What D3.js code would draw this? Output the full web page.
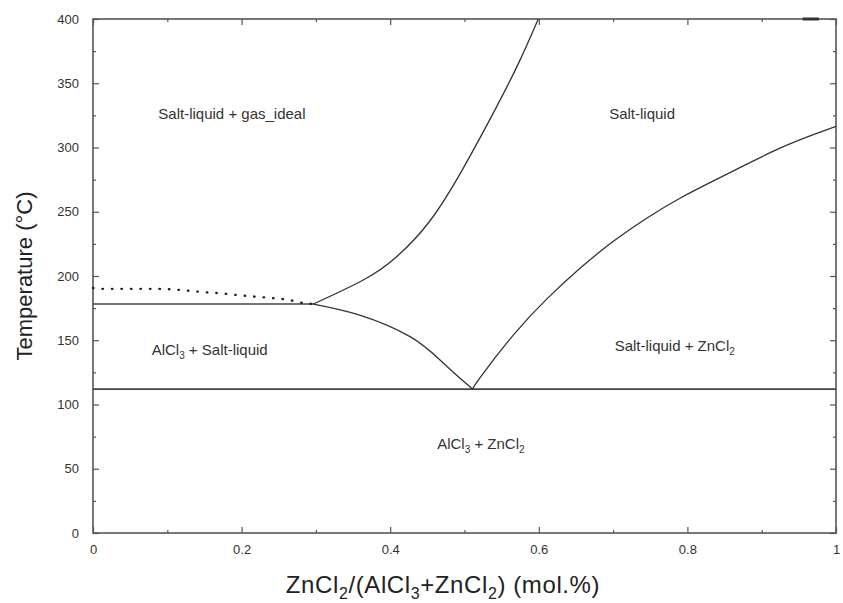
<!DOCTYPE html>
<html><head><meta charset="utf-8">
<script src="https://cdn.jsdelivr.net/npm/d3@7"></script>
<style>body{margin:0;background:#fff}</style>
</head><body>
<svg id="c" width="843" height="603"></svg>
<script>
// ---- data ----
const xMajorTicks = [0, 0.2, 0.4, 0.6, 0.8, 1];
const xMinorTicks = [0.1, 0.3, 0.5, 0.7, 0.9];
const yMajorTicks = [0, 50, 100, 150, 200, 250, 300, 350, 400];
const yMinorTicks = [25, 75, 125, 175, 225, 275, 325, 375];

const gasBoundaryX = [0.2965, 0.3638, 0.4087, 0.4536, 0.4984, 0.5433, 0.5747, 0.5993];
const gasBoundaryT = [178.2, 196.9, 215, 243, 284, 331.8, 368, 400];

const alLiquidusX = [0.2965, 0.359, 0.4267, 0.467, 0.494, 0.511];
const alLiquidusT = [178.2, 169.6, 152.8, 134.6, 120.4, 112];

const znLiquidusX = [0.511, 0.521, 0.5657, 0.6106, 0.6555, 0.7003, 0.7452, 0.79, 0.835, 0.88, 0.9246, 0.9695, 1.0];
const znLiquidusT = [112, 121, 154, 182, 206, 227, 245, 260.5, 274, 287, 299.5, 310, 316.5];

const metastableX = [0, 0.0085, 0.085, 0.122, 0.147, 0.172, 0.197, 0.235, 0.261, 0.285, 0.2965];
const metastableT = [190.7, 190, 190, 188.9, 187.5, 186.5, 185, 183.1, 181.6, 178.8, 178.2];

const peritecticX = [0, 0.2965];
const peritecticT = [178.2, 178.2];
const eutecticX = [0, 1];
const eutecticT = [112, 112];
const topMarkX = [0.955, 0.977];
const topMarkT = [400, 400];

const regionLabels = [
  {x: 0.187, T: 322, parts: [["Salt-liquid + gas_ideal", null]]},
  {x: 0.739, T: 322, parts: [["Salt-liquid", null]]},
  {x: 0.157, T: 138.5, parts: [["AlCl", null], ["3", "sub"], [" + Salt-liquid", null]]},
  {x: 0.783, T: 141.6, parts: [["Salt-liquid + ZnCl", null], ["2", "sub"]]},
  {x: 0.522, T: 65.4, parts: [["AlCl", null], ["3", "sub"], [" + ZnCl", null], ["2", "sub"]]}
];

// ---- chart ----
const W = 843, H = 603;
const m = {left: 93, right: 7, top: 19, bottom: 70};
const svg = d3.select("#c");
const x = d3.scaleLinear().domain([0, 1]).range([m.left, W - m.right]);
const y = d3.scaleLinear().domain([0, 400]).range([H - m.bottom, m.top]);
const axisCol = "#555", lineCol = "#333", textCol = "#333";

function styleAxis(g) {
  g.select(".domain").remove();
  g.selectAll(".tick line").attr("stroke", axisCol).attr("stroke-width", 1.2);
  g.selectAll(".tick text").attr("fill", textCol);
}
// major ticks
svg.append("g").attr("transform", `translate(0,${y(0)})`)
  .call(d3.axisBottom(x).tickValues(xMajorTicks).tickSizeInner(-6).tickSizeOuter(0).tickPadding(12)
    .tickFormat(d => d === 0 || d === 1 ? d3.format("d")(d) : d3.format(".1f")(d)))
  .call(styleAxis)
  .call(g => g.selectAll(".tick text").attr("font-family", "'Liberation Sans Narrow', Arial, sans-serif").attr("font-size", 13));
svg.append("g").attr("transform", `translate(0,${y(0)})`)
  .call(d3.axisBottom(x).tickValues(xMinorTicks).tickSizeInner(-3).tickSizeOuter(0).tickFormat(""))
  .call(styleAxis);
svg.append("g").attr("transform", `translate(0,${y(400)})`)
  .call(d3.axisTop(x).tickValues(xMajorTicks).tickSizeInner(-6).tickSizeOuter(0).tickFormat(""))
  .call(styleAxis);
svg.append("g").attr("transform", `translate(0,${y(400)})`)
  .call(d3.axisTop(x).tickValues(xMinorTicks).tickSizeInner(-3).tickSizeOuter(0).tickFormat(""))
  .call(styleAxis);
svg.append("g").attr("transform", `translate(${x(0)},0)`)
  .call(d3.axisLeft(y).tickValues(yMajorTicks).tickSizeInner(-6).tickSizeOuter(0).tickPadding(14))
  .call(styleAxis)
  .call(g => g.selectAll(".tick text").attr("font-family", "Arial, 'Liberation Sans', sans-serif").attr("font-size", 13));
svg.append("g").attr("transform", `translate(${x(0)},0)`)
  .call(d3.axisLeft(y).tickValues(yMinorTicks).tickSizeInner(-3).tickSizeOuter(0).tickFormat(""))
  .call(styleAxis);
svg.append("g").attr("transform", `translate(${x(1)},0)`)
  .call(d3.axisRight(y).tickValues(yMajorTicks).tickSizeInner(-6).tickSizeOuter(0).tickFormat(""))
  .call(styleAxis);
svg.append("g").attr("transform", `translate(${x(1)},0)`)
  .call(d3.axisRight(y).tickValues(yMinorTicks).tickSizeInner(-3).tickSizeOuter(0).tickFormat(""))
  .call(styleAxis);

// frame
svg.append("rect").attr("x", x(0)).attr("y", y(400)).attr("width", x(1) - x(0)).attr("height", y(0) - y(400))
  .attr("fill", "none").attr("stroke", axisCol).attr("stroke-width", 1.6);

// lines
function drawLine(xs, ts, opts = {}) {
  const pts = xs.map((v, i) => [v, ts[i]]);
  const line = d3.line().x(d => x(d[0])).y(d => y(d[1])).curve(opts.curve || d3.curveNatural);
  const p = svg.append("path").datum(pts).attr("d", line).attr("fill", "none")
    .attr("stroke", opts.color || lineCol).attr("stroke-width", opts.width || 1.3);
  if (opts.dash) p.attr("stroke-dasharray", opts.dash).attr("stroke-linecap", "round");
  return p;
}
drawLine(eutecticX, eutecticT, {curve: d3.curveLinear, width: 1.6, color: "#444"});
drawLine(peritecticX, peritecticT, {curve: d3.curveLinear, width: 1.6, color: "#444"});
drawLine(gasBoundaryX, gasBoundaryT);
drawLine(alLiquidusX, alLiquidusT);
drawLine(znLiquidusX, znLiquidusT);
drawLine(metastableX, metastableT, {curve: d3.curveMonotoneX, dash: "0.5 9", width: 2.4, color: "#222"});
drawLine(topMarkX, topMarkT, {curve: d3.curveLinear, width: 3, color: "#333"});

// region labels
regionLabels.forEach(l => {
  const t = svg.append("text").attr("x", x(l.x)).attr("y", y(l.T)).attr("text-anchor", "middle")
    .attr("font-family", "Arial, 'Liberation Sans', sans-serif").attr("font-size", 15).attr("fill", textCol);
  l.parts.forEach(([s, kind]) => {
    const ts = t.append("tspan").text(s);
    if (kind === "sub") ts.attr("font-size", 10).attr("dy", 4);
    else if (t.selectAll("tspan").size() > 1) ts.attr("dy", -4);
  });
});

// axis titles
svg.append("text").attr("transform", `translate(32,${(y(0) + y(400)) / 2}) rotate(-90)`)
  .attr("text-anchor", "middle").attr("font-family", "Arial, 'Liberation Sans', sans-serif")
  .attr("font-size", 22).attr("fill", "#222").text("Temperature (°C)");

const xTitle = svg.append("text").attr("x", 443).attr("y", 593)
  .attr("text-anchor", "middle").attr("font-family", "'Liberation Sans Narrow', Arial, sans-serif")
  .attr("font-size", 24).attr("letter-spacing", 0.6).attr("fill", "#222");
const xParts = [["ZnCl", null], ["2", "sub"], ["/(AlCl", null], ["3", "sub"], ["+ZnCl", null], ["2", "sub"], [") (mol.%)", null]];
xParts.forEach(([s, kind], i) => {
  const ts = xTitle.append("tspan").text(s);
  if (kind === "sub") ts.attr("font-size", 16).attr("dy", 6);
  else if (i > 0) ts.attr("dy", -6);
});
</script>
</body></html>
